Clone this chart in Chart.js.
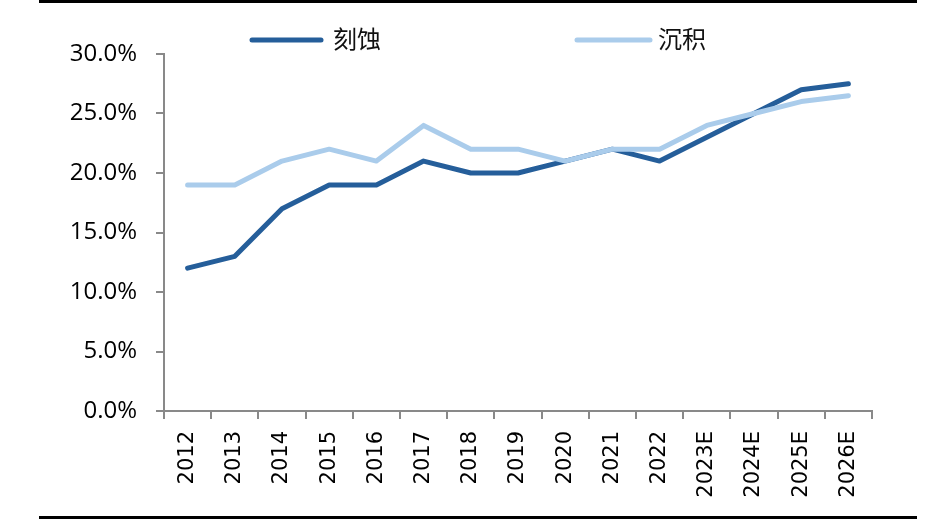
<!DOCTYPE html>
<html>
<head>
<meta charset="utf-8">
<script src="https://cdn.jsdelivr.net/npm/chart.js@4/dist/chart.umd.min.js"></script>
<style>
  html, body { margin: 0; padding: 0; background: #ffffff; }
  #wrap { width: 950px; height: 523px; position: relative; }
</style>
</head>
<body>
<div id="wrap"><canvas id="c" width="950" height="523"></canvas></div>
<script>
// ---- data ----
const categories = ['2012','2013','2014','2015','2016','2017','2018','2019','2020','2021','2022','2023E','2024E','2025E','2026E'];
const seriesNames = ['刻蚀', '沉积'];
const etchValues = [12, 13, 17, 19, 19, 21, 20, 20, 21, 22, 21, 23, 25, 27, 27.5];
const depositionValues = [19, 19, 21, 22, 21, 24, 22, 22, 21, 22, 22, 24, 25, 26, 26.5];
const yTickMin = 0, yTickMax = 30, yTickStep = 5;

// ---- styles ----
const darkBlue = '#255E9A';
const lightBlue = '#AACCEB';
const axisGray = '#898989';

const framePlugin = {
  id: 'frame',
  afterDraw(chart) {
    const ctx = chart.ctx;
    ctx.save();
    ctx.fillStyle = '#000000';
    ctx.fillRect(39, 0, 878, 3);
    ctx.fillRect(39, 516, 878, 3);
    // legend
    const items = [
      { x1: 252, x2: 321, tx: 333 },
      { x1: 577, x2: 650, tx: 658 }
    ];
    chart.data.datasets.forEach((ds, i) => {
      const it = items[i];
      ctx.strokeStyle = ds.borderColor;
      ctx.lineWidth = 5;
      ctx.lineCap = 'round';
      ctx.beginPath();
      ctx.moveTo(it.x1, 40);
      ctx.lineTo(it.x2, 40);
      ctx.stroke();
      ctx.fillStyle = '#111111';
      ctx.font = '24px "Noto Sans CJK SC"';
      ctx.textBaseline = 'middle';
      ctx.textAlign = 'left';
      ctx.fillText(ds.label, it.tx, 39);
    });
    ctx.restore();
  }
};

new Chart(document.getElementById('c'), {
  type: 'line',
  data: {
    labels: categories,
    datasets: [
      {
        label: seriesNames[0],
        data: etchValues,
        borderColor: darkBlue,
        backgroundColor: darkBlue,
        borderWidth: 5,
        pointRadius: 0,
        tension: 0,
        borderCapStyle: 'round',
        borderJoinStyle: 'round',
        order: 2
      },
      {
        label: seriesNames[1],
        data: depositionValues,
        borderColor: lightBlue,
        backgroundColor: lightBlue,
        borderWidth: 5,
        pointRadius: 0,
        tension: 0,
        borderCapStyle: 'round',
        borderJoinStyle: 'round',
        order: 1
      }
    ]
  },
  options: {
    responsive: false,
    animation: false,
    layout: { padding: { top: 54, right: 78, bottom: 0, left: 0 } },
    plugins: {
      legend: { display: false },
      tooltip: { enabled: false }
    },
    scales: {
      x: {
        offset: true,
        grid: {
          offset: true,
          drawOnChartArea: false,
          drawTicks: true,
          tickLength: 8,
          color: axisGray,
          lineWidth: 2
        },
        border: { color: axisGray, width: 2 },
        ticks: {
          autoSkip: false,
          minRotation: 90,
          maxRotation: 90,
          padding: 12,
          color: '#000000',
          font: { family: '"DejaVu Sans"', size: 21 }
        },
        afterFit(scale) { scale.height = 112; }
      },
      y: {
        min: yTickMin,
        max: yTickMax,
        grid: {
          drawOnChartArea: false,
          drawTicks: true,
          tickLength: 8,
          color: axisGray,
          lineWidth: 2
        },
        border: { color: axisGray, width: 2 },
        ticks: {
          stepSize: yTickStep,
          padding: 19,
          color: '#000000',
          font: { family: '"Open Sans"', size: 24 },
          callback: (v) => Number(v).toFixed(1) + '%'
        },
        afterFit(scale) { scale.width = 164; }
      }
    }
  },
  plugins: [framePlugin]
});
</script>
</body>
</html>
